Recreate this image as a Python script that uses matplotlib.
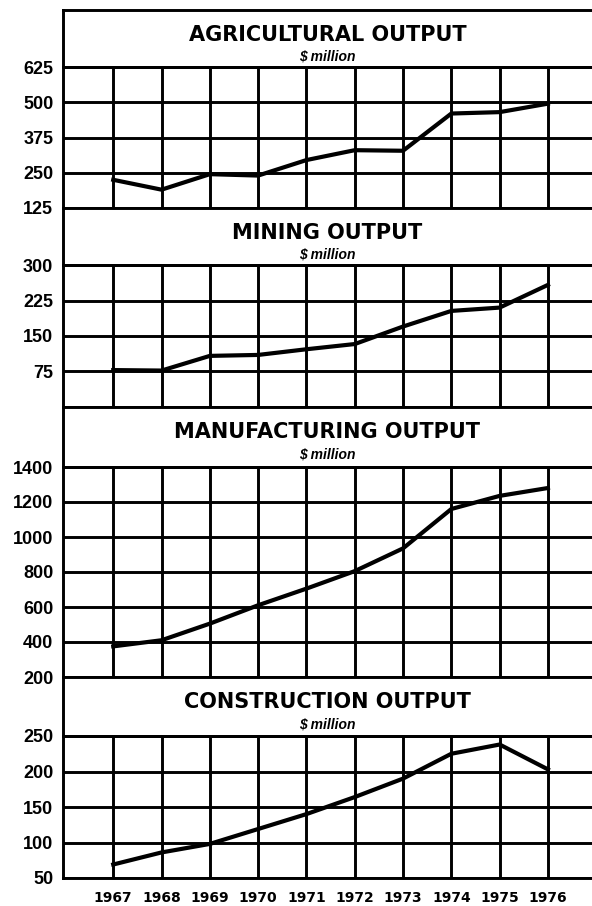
import matplotlib.pyplot as plt

years = [1967, 1968, 1969, 1970, 1971, 1972, 1973, 1974, 1975, 1976]

agriculture = [225, 190, 245, 240, 295, 330, 328, 460, 465, 495]
mining = [78, 77, 108, 110, 122, 133, 170, 203, 210, 258]
manufacturing = [375, 410, 505, 610, 705, 805, 935, 1160, 1235, 1280]
construction = [69, 86, 98, 119, 140, 164, 190, 225, 238, 203]

titles = ['AGRICULTURAL OUTPUT', 'MINING OUTPUT',
          'MANUFACTURING OUTPUT', 'CONSTRUCTION OUTPUT']
subtitle = '$ million'

agri_ticks = [125, 250, 375, 500, 625]
mining_ticks = [75, 150, 225, 300]
manuf_ticks = [200, 400, 600, 800, 1000, 1200, 1400]
constr_ticks = [50, 100, 150, 200, 250]

series = [agriculture, mining, manufacturing, construction]
ticks = [agri_ticks, mining_ticks, manuf_ticks, constr_ticks]
limits = [(125, 625), (0, 300), (200, 1400), (50, 250)]

# pixel rows: (band top, plot top, plot bottom)
rows = [(10, 67, 208), (208, 265, 407), (407, 467, 677), (677, 736, 878)]

W, H = 592, 906
left_px, right_px = 63, 602
x0 = 1965.96
x1 = x0 + (right_px - left_px) / 48.3

plt.rcParams['font.family'] = 'Liberation Sans'
plt.rcParams['font.weight'] = 'bold'

fig = plt.figure(figsize=(W / 100, H / 100), dpi=100)
fig.patch.set_facecolor('white')

lw = 2.1

for i in range(4):
    top, ptop, pbot = rows[i]

    # title band
    tb = fig.add_axes([left_px / W, 1 - ptop / H, (right_px - left_px) / W, (ptop - top) / H])
    tb.set_xticks([])
    tb.set_yticks([])
    for s in tb.spines.values():
        s.set_linewidth(lw)
    cx = (left_px + W) / 2 / W
    fig.text(cx, 1 - (top + 25) / H, titles[i], ha='center', va='center',
             fontsize=15, fontweight='bold', family='DejaVu Sans')
    fig.text(cx, 1 - (top + 47) / H, subtitle, ha='center', va='center',
             fontsize=10, fontweight='bold', style='italic')

    # plot area
    ax = fig.add_axes([left_px / W, 1 - pbot / H, (right_px - left_px) / W, (pbot - ptop) / H])
    ax.plot(years, series[i], color='black', lw=3.0, solid_joinstyle='round')
    ax.set_xlim(x0, x1)
    ax.set_ylim(*limits[i])
    ax.set_yticks(ticks[i])
    ax.set_yticklabels([str(t) for t in ticks[i]], fontsize=13, fontweight='bold')
    ax.set_xticks(years)
    if i == 3:
        ax.set_xticklabels([str(y) for y in years], fontsize=10, fontweight='bold',
                           family='Liberation Sans Narrow')
    else:
        ax.set_xticklabels([])
    ax.tick_params(length=0, pad=7)
    ax.tick_params(axis='x', pad=9)
    ax.grid(True, color='black', lw=lw)
    for s in ax.spines.values():
        s.set_linewidth(lw)

fig.savefig('out.png', dpi=100, facecolor='white')
